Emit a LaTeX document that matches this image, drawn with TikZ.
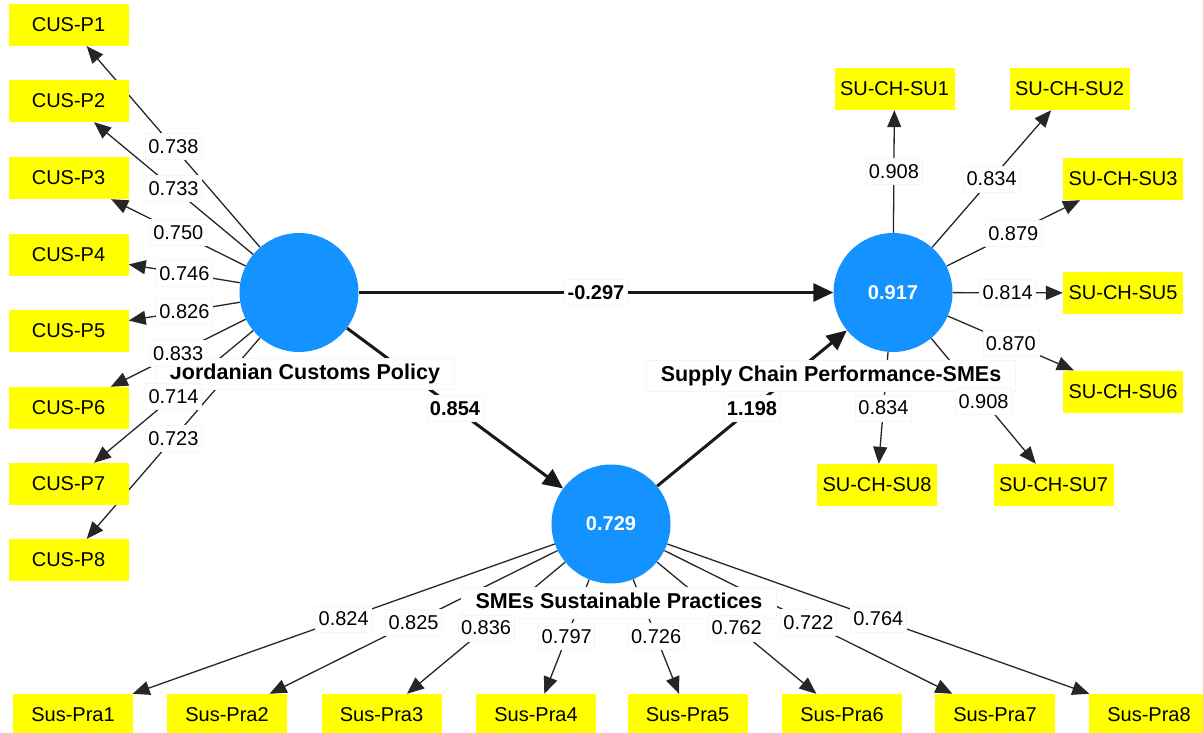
\documentclass[tikz,border=0pt]{standalone}
\usepackage{fontspec}
\setmainfont{Liberation Sans}
\usetikzlibrary{arrows.meta}
\pgfdeclarelayer{bg}
\pgfdeclarelayer{names}
\pgfsetlayers{bg,names,main}
\definecolor{lvblue}{RGB}{20,146,255}
\definecolor{indyellow}{RGB}{255,255,0}
\definecolor{lbledge}{RGB}{246,246,246}
\tikzset{
  lv/.style={circle,fill=lvblue,minimum size=119pt,inner sep=0pt,text=white,font=\fontsize{20}{24}\selectfont\bfseries},
  ind/.style={rectangle,fill=indyellow,minimum width=120pt,minimum height=42pt,inner sep=0pt,font=\fontsize{20}{24}\selectfont},
  num/.style={fill=white,draw=lbledge,line width=0.6pt,inner xsep=3pt,inner ysep=5.5pt,text height=14.5pt,text depth=0.5pt,font=\fontsize{20}{24}\selectfont},
  bnum/.style={num,font=\fontsize{20}{24}\selectfont\bfseries},
  lvname/.style={fill=white,draw=lbledge,line width=0.6pt,inner xsep=14pt,inner ysep=5pt,text height=16pt,text depth=5pt,anchor=base,font=\fontsize{21.5}{26}\selectfont\bfseries},
  load/.style={draw=black!85,line width=1.3pt,-{Triangle[length=17pt,width=14pt]}},
  strpath/.style={draw=black!90,line width=3pt,-{Triangle[length=20pt,width=18pt]}},
}
\newcommand{\edgeL}[5]{%
  \begin{pgfonlayer}{bg}\draw[#1] (#3) -- (#4);\end{pgfonlayer}
  \path (#3) -- node[#2]{#5} (#4);}
\begin{document}
\begin{tikzpicture}[x=1pt,y=-1pt]
\useasboundingbox (0,0) rectangle (1203,733);
% latent variables
\node[lv] (J) at (299,292.5) {};
\node[lv] (S) at (893,292.5) {0.917};
\node[lv] (P) at (611,524) {0.729};
% indicators
\node[ind] (c1) at (68.5,25) {CUS-P1};
\node[ind] (c2) at (68.5,101) {CUS-P2};
\node[ind] (c3) at (68.5,178) {CUS-P3};
\node[ind] (c4) at (68.5,254.5) {CUS-P4};
\node[ind] (c5) at (68.5,330.5) {CUS-P5};
\node[ind] (c6) at (68.5,408) {CUS-P6};
\node[ind] (c7) at (68.5,484) {CUS-P7};
\node[ind] (c8) at (68.5,560) {CUS-P8};
\node[ind] (s1) at (894.5,89) {SU-CH-SU1};
\node[ind] (s2) at (1069.5,89) {SU-CH-SU2};
\node[ind] (s3) at (1123,179) {SU-CH-SU3};
\node[ind] (s5) at (1123,293) {SU-CH-SU5};
\node[ind] (s6) at (1123,391.5) {SU-CH-SU6};
\node[ind] (s7) at (1053.5,485) {SU-CH-SU7};
\node[ind] (s8) at (877,485) {SU-CH-SU8};
\node[ind] (p1) at (73,715) {Sus-Pra1};
\node[ind] (p2) at (227,715) {Sus-Pra2};
\node[ind] (p3) at (381.5,715) {Sus-Pra3};
\node[ind] (p4) at (536,715) {Sus-Pra4};
\node[ind] (p5) at (687.5,715) {Sus-Pra5};
\node[ind] (p6) at (842,715) {Sus-Pra6};
\node[ind] (p7) at (995,715) {Sus-Pra7};
\node[ind] (p8) at (1149,715) {Sus-Pra8};
% construct names
\begin{pgfonlayer}{names}
\node[lvname] (nJ) at (305,379) {Jordanian Customs Policy};
\node[lvname] (nS) at (831,381) {Supply Chain Performance-SMEs};
\node[lvname] (nP) at (619,608) {SMEs Sustainable Practices};
\end{pgfonlayer}
% structural paths
\edgeL{strpath}{bnum}{J}{S}{-0.297}
\edgeL{strpath}{bnum}{J}{P}{0.854}
\edgeL{strpath}{bnum}{P}{S}{1.198}
% outer loadings
\edgeL{load}{num}{J}{c1}{0.738}
\edgeL{load}{num}{J}{c2}{0.733}
\edgeL{load}{num}{J}{c3}{0.750}
\edgeL{load}{num}{J}{c4}{0.746}
\edgeL{load}{num}{J}{c5}{0.826}
\edgeL{load}{num}{J}{c6}{0.833}
\edgeL{load}{num}{J}{c7}{0.714}
\edgeL{load}{num}{J}{c8}{0.723}
\edgeL{load}{num}{S}{s1}{0.908}
\edgeL{load}{num}{S}{s2}{0.834}
\edgeL{load}{num}{S}{s3}{0.879}
\edgeL{load}{num}{S}{s5}{0.814}
\edgeL{load}{num}{S}{s6}{0.870}
\edgeL{load}{num}{S}{s7}{0.908}
\edgeL{load}{num}{S}{s8}{0.834}
\edgeL{load}{num}{P}{p1}{0.824}
\edgeL{load}{num}{P}{p2}{0.825}
\edgeL{load}{num}{P}{p3}{0.836}
\edgeL{load}{num}{P}{p4}{0.797}
\edgeL{load}{num}{P}{p5}{0.726}
\edgeL{load}{num}{P}{p6}{0.762}
\edgeL{load}{num}{P}{p7}{0.722}
\edgeL{load}{num}{P}{p8}{0.764}
\end{tikzpicture}
\end{document}
